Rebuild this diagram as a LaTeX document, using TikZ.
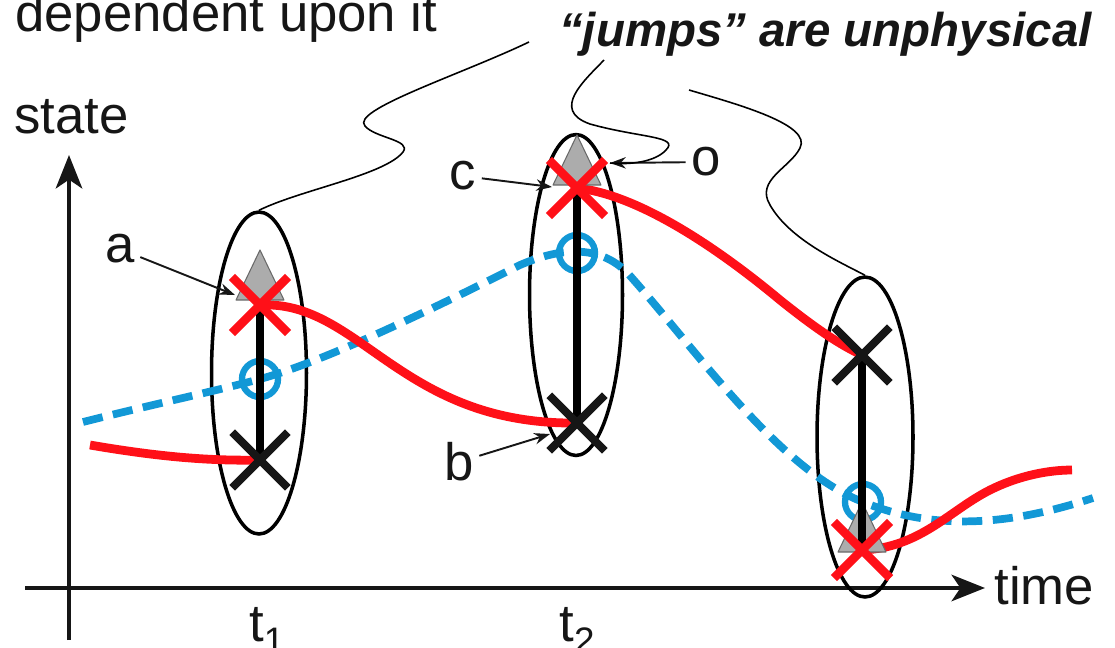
\documentclass[tikz,border=0pt]{standalone}
\usepackage{fontspec}
\setmainfont{Liberation Sans}
\usepackage{tikz}
\usetikzlibrary{shapes.geometric, shapes.misc, arrows.meta, positioning, calc}
\definecolor{myred}{RGB}{255,16,24}
\definecolor{myblue}{RGB}{18,152,214}
\definecolor{mydark}{RGB}{22,22,22}
\definecolor{obsgray}{RGB}{172,172,172}
\definecolor{obsline}{RGB}{105,105,105}
\tikzset{
  axis/.style={line width=2.5pt, color=mydark,
    -{Stealth[length=19pt, width=15pt, inset=5pt]}},
  group/.style={ellipse, draw=black, line width=2pt, inner sep=0pt},
  truth/.style={line width=5pt, color=myred},
  fcast/.style={line width=4.4pt, color=myblue, dash pattern=on 11.5pt off 6pt},
  bar/.style={line width=4.5pt, color=black},
  bgmark/.style={cross out, draw=mydark, line width=4.6pt,
    minimum size=27pt, inner sep=0pt},
  anmark/.style={cross out, draw=myred, line width=5pt,
    minimum size=27pt, inner sep=0pt},
  fcmark/.style={circle, draw=myblue, line width=3.6pt,
    minimum size=20.5pt, inner sep=0pt},
  obs/.style={fill=obsgray, draw=obsline, line width=0.6pt, line join=round},
  squig/.style={line width=0.9pt, color=black},
  labarrow/.style={-{Stealth[length=9pt, width=6.5pt]}, line width=1.1pt, color=mydark},
  lab/.style={inner sep=3pt, text=mydark},
  jumptext/.style={font=\fontsize{27}{32}\selectfont\bfseries\itshape}
}
\newcommand{\obsmark}[1]{\filldraw[obs] (#1) ++(-24,0) -- ++(48,0) -- ++(-24,-50) -- cycle;}
\newcommand{\tsub}[1]{\raisebox{-7pt}{\fontsize{21}{21}\selectfont #1}}

\begin{document}
\begin{tikzpicture}[x=0.02cm, y=-0.02cm, font=\fontsize{30}{36}\selectfont]
  \useasboundingbox (0,0) rectangle (1115,647);

  \node[lab, anchor=base west, inner sep=0pt] (dep) at (15,31) {dependent upon it};
  \node[lab, jumptext, anchor=base east, inner sep=0pt] (jumps) at (1092,46) {“jumps” are unphysical};
  \node[lab, anchor=base west, inner sep=0pt] (state) at (14,133) {state};
  \node[lab, anchor=base west, inner sep=0pt] (time) at (994,604) {time};
  \node[lab, anchor=base west, inner sep=0pt] (t1) at (249,641) {t\tsub{1}};
  \node[lab, anchor=base west, inner sep=0pt] (t2) at (559,641) {t\tsub{2}};

  \coordinate (yo) at (69,640);
  \coordinate (ytip) at (69,155);
  \coordinate (xo) at (25,588);
  \coordinate (xtip) at (985,588);
  \draw[axis] (yo) -- (ytip);
  \draw[axis] (xo) -- (xtip);

  \node[group, minimum width=1.9cm, minimum height=6.44cm] (e1) at (259,373) {};
  \node[group, minimum width=1.86cm, minimum height=6.42cm] (e2) at (576,295) {};
  \node[group, minimum width=1.92cm, minimum height=6.4cm] (e3) at (865,437) {};

  \coordinate (bg1) at (260,460);
  \coordinate (bg2) at (577,423);
  \coordinate (bg3) at (862,355);
  \coordinate (an1) at (260,305);
  \coordinate (an2) at (577,188);
  \coordinate (an3) at (862,550);
  \coordinate (fc1) at (260,379);
  \coordinate (fc2) at (577,253);
  \coordinate (fc3) at (863,502);
  \coordinate (ob1) at (260,300);
  \coordinate (ob2) at (577,185);
  \coordinate (ob3) at (862,552);

  \coordinate (fcstart) at (83,422);
  \coordinate (fcend) at (1093,498);
  \draw[fcast] (fcstart) .. controls (150,405) and (220,390) .. (fc1)
    .. controls (330,360) and (450,300) .. (520,265)
    .. controls (555,250) and (600,240) .. (632,278)
    .. controls (700,355) and (780,470) .. (fc3)
    .. controls (920,525) and (990,532) .. (fcend);

  \coordinate (trstart) at (90,445);
  \coordinate (trend) at (1072,470);
  \draw[truth] (trstart) .. controls (160,457) and (210,461) .. (bg1);
  \draw[truth] (an1) .. controls (360,300) and (400,425) .. (bg2);
  \draw[truth] (an2) .. controls (640,195) and (720,250) .. (780,300)
    .. controls (815,328) and (840,345) .. (bg3);
  \draw[truth] (an3) .. controls (920,548) and (950,510) .. (990,490)
    .. controls (1020,475) and (1050,470) .. (trend);

  \node[fcmark] (c1) at (fc1) {};
  \node[fcmark] (c2) at (fc2) {};
  \node[fcmark] (c3) at (fc3) {};

  \obsmark{ob1}
  \obsmark{ob2}
  \obsmark{ob3}

  \draw[bar] (an1) -- (bg1);
  \draw[bar] (an2) -- (bg2);
  \draw[bar] (an3) -- (bg3);

  \node[bgmark] (x1) at (bg1) {};
  \node[bgmark] (x2) at (bg2) {};
  \node[bgmark] (x3) at (bg3) {};
  \node[anmark] (r1) at (an1) {};
  \node[anmark] (r2) at (an2) {};
  \node[anmark] (r3) at (an3) {};

  \coordinate (at-a) at (235,295);
  \coordinate (at-b) at (550,434);
  \coordinate (at-c) at (552,187);
  \coordinate (at-o) at (610,163);
  \node[lab] (la) at (120,249) {a};
  \node[lab] (lb) at (459,462) {b};
  \node[lab] (lc) at (463,176) {c};
  \node[lab] (lo) at (706,162) {o};
  \draw[labarrow] (la) -- (at-a);
  \draw[labarrow] (lb) -- (at-b);
  \draw[labarrow] (lc) -- (at-c);
  \draw[labarrow] (lo) -- (at-o);

  \coordinate (sq1) at (529,42);
  \coordinate (sq2) at (604,60);
  \coordinate (sq3) at (689,90);
  \draw[squig] (sq1) .. controls (460,75) and (350,110) .. (365,126)
    .. controls (375,138) and (412,140) .. (403,152)
    .. controls (385,175) and (300,190) .. (e1.north);
  \draw[squig] (sq2) .. controls (585,80) and (550,110) .. (590,124)
    .. controls (640,138) and (680,136) .. (666,150)
    .. controls (655,162) and (630,165) .. (at-o);
  \draw[squig] (sq3) .. controls (740,105) and (812,125) .. (800,148)
    .. controls (790,168) and (755,180) .. (770,205)
    .. controls (790,240) and (840,262) .. (e3.north);
\end{tikzpicture}
\end{document}
